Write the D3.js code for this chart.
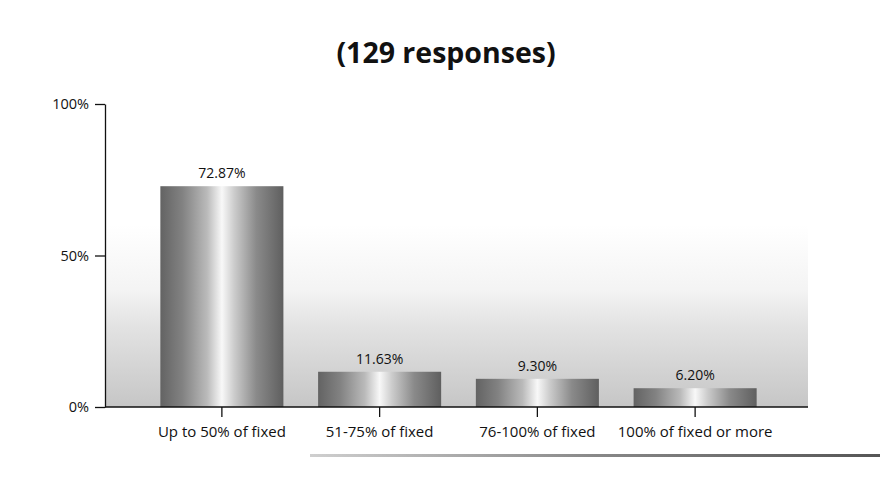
<!DOCTYPE html>
<html lang="en">

<head>
    <meta charset="UTF-8">
    <title>responses</title>
    <style>
        body { margin: 0; background: #fff; }
        text { font-family: "Open Sans", "Noto Sans", sans-serif; fill: #111; }
    </style>
</head>

<body>
    <div id="chart"></div>

    <script src="https://d3js.org/d3.v7.min.js"></script>

    <script type="text/javascript">

        // data
        var categories = ["Up to 50% of fixed", "51-75% of fixed", "76-100% of fixed", "100% of fixed or more"];
        var values = [72.87, 11.63, 9.30, 6.20];
        var yTicks = [0, 50, 100];
        var title = "(129 responses)";

        var width = 880, height = 484;

        var svg = d3.select("#chart")
            .append("svg")
            .attr("width", width)
            .attr("height", height);

        var defs = svg.append("defs");

        // light grey floor shading behind the bars
        var bg = defs.append("linearGradient")
            .attr("id", "bgGrad")
            .attr("x1", 0).attr("y1", 0).attr("x2", 0).attr("y2", 1);
        bg.append("stop").attr("offset", "0%").attr("stop-color", "#ffffff");
        bg.append("stop").attr("offset", "35%").attr("stop-color", "#f4f4f4");
        bg.append("stop").attr("offset", "55%").attr("stop-color", "#e3e3e3");
        bg.append("stop").attr("offset", "100%").attr("stop-color", "#c6c6c6");

        // cylinder-like shading of the bars
        var bar = defs.append("linearGradient")
            .attr("id", "barGrad")
            .attr("x1", 0).attr("y1", 0).attr("x2", 1).attr("y2", 0);
        [[0, "#636363"], [0.18, "#828282"], [0.38, "#bababa"], [0.5, "#f8f8f8"],
         [0.6, "#cccccc"], [0.78, "#8a8a8a"], [1, "#5f5f5f"]].forEach(function (s) {
            bar.append("stop").attr("offset", s[0]).attr("stop-color", s[1]);
        });

        var x = d3.scaleBand()
            .domain(categories)
            .range([143, 774])
            .paddingInner(0.22)
            .paddingOuter(0.11);

        var y = d3.scaleLinear()
            .domain([0, 100])
            .range([407, 104]);

        // plot background
        svg.append("rect")
            .attr("x", 106)
            .attr("y", y(60))
            .attr("width", 702)
            .attr("height", y(0) - y(60))
            .attr("fill", "url(#bgGrad)");

        // title
        svg.append("text")
            .attr("x", 446)
            .attr("y", 63)
            .attr("text-anchor", "middle")
            .style("font-size", "28.5px")
            .style("font-weight", "bold")
            .text(title);

        // bars
        svg.selectAll(".bar")
            .data(values)
            .enter()
            .append("rect")
            .attr("class", "bar")
            .attr("x", function (d, i) { return x(categories[i]); })
            .attr("y", function (d) { return y(d); })
            .attr("width", x.bandwidth())
            .attr("height", function (d) { return y(0) - y(d); })
            .attr("fill", "url(#barGrad)");

        // value labels
        svg.selectAll(".val")
            .data(values)
            .enter()
            .append("text")
            .attr("class", "val")
            .attr("x", function (d, i) { return x(categories[i]) + x.bandwidth() / 2; })
            .attr("y", function (d) { return y(d) - 8; })
            .attr("text-anchor", "middle")
            .style("font-size", "14px")
            .text(function (d) { return d.toFixed(2) + "%"; });

        // Y axis
        var yAxis = svg.append("g")
            .attr("transform", "translate(105,0)")
            .call(d3.axisLeft(y)
                .tickValues(yTicks)
                .tickFormat(function (d) { return d + "%"; })
                .tickSize(10)
                .tickSizeOuter(0)
                .tickPadding(6));
        yAxis.selectAll("text").style("font-size", "14.5px").attr("fill", "#111");
        yAxis.selectAll("line, path").attr("stroke", "#111").attr("stroke-width", 1.3);

        // baseline
        svg.append("line")
            .attr("x1", 105)
            .attr("x2", 808)
            .attr("y1", y(0))
            .attr("y2", y(0))
            .attr("stroke", "#111")
            .attr("stroke-width", 1.5);

        // X axis ticks and labels
        var xAxis = svg.append("g")
            .attr("transform", "translate(0," + y(0) + ")")
            .call(d3.axisBottom(x)
                .tickSize(10)
                .tickSizeOuter(0)
                .tickPadding(9));
        xAxis.select(".domain").remove();
        xAxis.selectAll("text").style("font-size", "15px").attr("fill", "#111");
        xAxis.selectAll("line").attr("stroke", "#111").attr("stroke-width", 1.3);

        // rule along the bottom of the scanned page
        var rule = defs.append("linearGradient")
            .attr("id", "ruleGrad")
            .attr("x1", 0).attr("y1", 0).attr("x2", 1).attr("y2", 0);
        rule.append("stop").attr("offset", "0%").attr("stop-color", "#cfcfcf");
        rule.append("stop").attr("offset", "50%").attr("stop-color", "#888");
        rule.append("stop").attr("offset", "100%").attr("stop-color", "#555");

        svg.append("rect")
            .attr("x", 310)
            .attr("y", 454)
            .attr("width", 570)
            .attr("height", 3)
            .attr("fill", "url(#ruleGrad)");

    </script>

</body>

</html>
